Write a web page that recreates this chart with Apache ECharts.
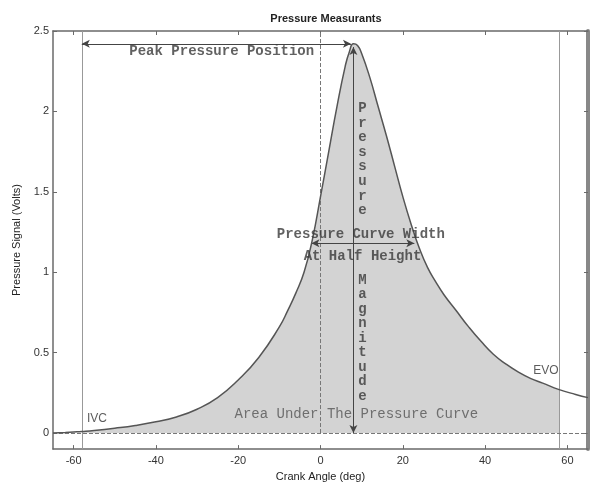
<!DOCTYPE html>
<html><head><meta charset="utf-8">
<script src="https://cdn.jsdelivr.net/npm/echarts@6/dist/echarts.min.js"></script>
<style>html,body{margin:0;padding:0;background:#fff}#c{width:592px;height:487px}</style>
</head><body><div id="c"></div>
<script>
// ---- data ----
const crankAngle = [-65,-62,-60,-58,-55,-50,-45,-40,-35,-30,-25,-20,-15,-10,-8,-6,-4,-2,0,2,4,6,7,8,9,10,12,14,16,18,20,22,24,26,28,30,33,36,39,42,45,48,51,54,58,62,65];
const pressure   = [0.00,0.004,0.007,0.01,0.016,0.03,0.047,0.07,0.10,0.148,0.22,0.33,0.47,0.66,0.76,0.87,1.00,1.20,1.47,1.75,2.03,2.28,2.37,2.42,2.41,2.36,2.21,2.03,1.85,1.66,1.47,1.30,1.15,1.03,0.94,0.86,0.76,0.66,0.57,0.49,0.43,0.38,0.34,0.31,0.27,0.24,0.22];
const xTicks = [-60,-40,-20,0,20,40,60];
const yTicks = [0,0.5,1,1.5,2,2.5];
const ivcAngle = -58, evoAngle = 58;
const peakAngle = 8, peakValue = 2.42;
const halfHeight = 1.18, halfLeft = -2.2, halfRight = 22.8;

const curve = crankAngle.map((x,i)=>[x,pressure[i]]);
const filled = curve.filter(p=>p[0]>=ivcAngle && p[0]<=evoAngle);

const mono = 'Liberation Mono, Courier New, monospace';
const sans = 'Liberation Sans, Arial, sans-serif';

const labels = [
  {value:[-24,2.37], text:'Peak Pressure Position', font:mono, size:14, weight:'bold', color:'#3a3a3a', lh:16},
  {value:[10.2,1.70], text:'P\nr\ne\ns\ns\nu\nr\ne', font:mono, size:14, weight:'bold', color:'#3a3a3a', lh:14.6},
  {value:[10.2,0.59], text:'M\na\ng\nn\ni\nt\nu\nd\ne', font:mono, size:14, weight:'bold', color:'#3a3a3a', lh:14.5},
  {value:[9.8,1.235], text:'Pressure Curve Width', font:mono, size:14, weight:'bold', color:'#3a3a3a', lh:16},
  {value:[10.2,1.10], text:'At Half Height', font:mono, size:14, weight:'bold', color:'#3a3a3a', lh:16},
  {value:[8.7,0.117], text:'Area Under The Pressure Curve', font:mono, size:14, weight:'normal', color:'#555', lh:16},
  {value:[-54.3,0.09], text:'IVC', font:sans, size:12, weight:'normal', color:'#333', lh:14},
  {value:[54.8,0.39], text:'EVO', font:sans, size:12, weight:'normal', color:'#333', lh:14}
];

const chart = echarts.init(document.getElementById('c'), null, {renderer:'canvas'});
const axisCol = '#6a6a6a';
const option = {
  animation:false,
  title:{text:'Pressure Measurants', left:321, textAlign:'center', top:8,
    textStyle:{fontFamily:sans, fontSize:11, fontWeight:'bold', color:'#222'}},
  grid:{left:53, right:4, top:31, bottom:34},
  xAxis:[{
    type:'value', min:-65, max:65, position:'bottom',
    name:'Crank Angle (deg)', nameLocation:'middle', nameGap:21,
    nameTextStyle:{fontFamily:sans, fontSize:11, color:'#222'},
    axisLine:{show:true, onZero:false, lineStyle:{color:axisCol, width:1.5}},
    axisTick:{show:true, inside:true, length:4, customValues:xTicks, lineStyle:{color:axisCol}},
    axisLabel:{customValues:xTicks, margin:6, fontFamily:sans, fontSize:11, color:'#333'},
    splitLine:{show:false}
  },{
    type:'value', min:-65, max:65, position:'top',
    axisLine:{show:true, onZero:false, lineStyle:{color:axisCol, width:1.5}},
    axisTick:{show:true, inside:true, length:4, customValues:xTicks, lineStyle:{color:axisCol}},
    axisLabel:{show:false}, splitLine:{show:false}
  }],
  yAxis:[{
    type:'value', min:-0.1, max:2.5, position:'left',
    name:'Pressure Signal (Volts)', nameLocation:'middle', nameGap:24,
    nameTextStyle:{fontFamily:sans, fontSize:11, color:'#222'},
    axisLine:{show:true, onZero:false, lineStyle:{color:axisCol, width:1.5}},
    axisTick:{show:true, inside:true, length:4, customValues:yTicks, lineStyle:{color:axisCol}},
    axisLabel:{customValues:yTicks, margin:4, fontFamily:sans, fontSize:11, color:'#333'},
    splitLine:{show:false}
  },{
    type:'value', min:-0.1, max:2.5, position:'right',
    axisLine:{show:true, onZero:false, lineStyle:{color:'#888', width:4}},
    axisTick:{show:true, inside:true, length:4, customValues:yTicks, lineStyle:{color:axisCol}},
    axisLabel:{show:false}, splitLine:{show:false}
  }],
  series:[
    {type:'line', data:filled, showSymbol:false, smooth:0.5, z:1,
     lineStyle:{width:0}, areaStyle:{color:'#d3d3d3', opacity:1, origin:0}, silent:true},
    {type:'line', data:curve, showSymbol:false, smooth:0.5, z:5,
     lineStyle:{color:'#555', width:1.5},
     markLine:{silent:true, symbol:['none','none'], label:{show:false},
       lineStyle:{type:'solid', color:'#999', width:1},
       data:[
         [{coord:[ivcAngle,-0.1]},{coord:[ivcAngle,2.5]}],
         [{coord:[evoAngle,-0.1]},{coord:[evoAngle,2.5]}],
         [{coord:[0,0],lineStyle:{type:'dashed',color:'#777',width:1}},{coord:[0,2.5]}],
         [{coord:[-65,0],lineStyle:{type:'dashed',color:'#777',width:1}},{coord:[65,0]}]
       ]}},
    {type:'line', data:[], z:6,
     markLine:{silent:true, symbol:['arrow','arrow'], symbolSize:[6,8], label:{show:false},
       lineStyle:{type:'solid', color:'#444', width:1},
       data:[
         [{coord:[ivcAngle,peakValue]},{coord:[peakAngle-0.6,peakValue]}],
         [{coord:[peakAngle,0]},{coord:[peakAngle,peakValue-0.02]}],
         [{coord:[halfLeft,halfHeight]},{coord:[halfRight,halfHeight]}]
       ]}},
    {type:'scatter', symbolSize:0, z:10, silent:true,
     data: labels.map(l=>({value:l.value, label:{show:true, position:'inside', formatter:l.text,
        fontFamily:l.font, fontSize:l.size, fontWeight:l.weight, color:l.color, lineHeight:l.lh}}))}
  ]
};
chart.setOption(option);
</script></body></html>
